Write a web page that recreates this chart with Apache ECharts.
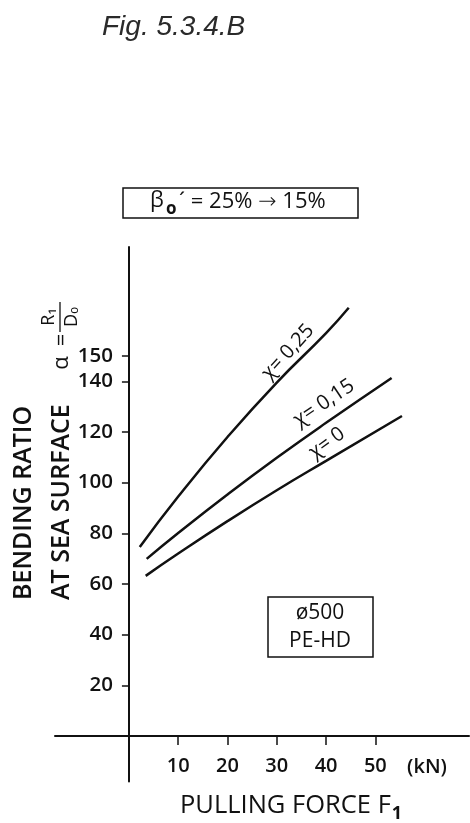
<!DOCTYPE html>
<html><head><meta charset="utf-8">
<script src="https://cdn.jsdelivr.net/npm/echarts@6/dist/echarts.min.js"></script>
<style>html,body{margin:0;padding:0;background:#fff}#c{width:470px;height:823px}</style>
</head><body><div id="c"></div>
<script>
const xTickValues = [10, 20, 30, 40, 50];
const yTickValues = [20, 40, 60, 80, 100, 120, 140, 150];
const curveNames = ['χ= 0,25', 'χ= 0,15', 'χ= 0'];
const forceChi025 = [2.2, 10, 20, 30, 40, 44.6];
const ratioChi025 = [74.6, 94.5, 118, 139.5, 159, 169];
const forceChi015 = [3.6, 10, 20, 30, 40, 53.3];
const ratioChi015 = [69.9, 80.1, 95.3, 109.8, 123.6, 141.3];
const forceChi0 = [3.4, 10, 20, 30, 40, 55.4];
const ratioChi0 = [63.2, 72, 84.8, 97, 108.6, 126.3];

const INK = '#111';
const FONT = "'Open Sans', sans-serif";
const zip = (xs, ys) => xs.map((x, i) => [x, ys[i]]);
const curves = [zip(forceChi025, ratioChi025), zip(forceChi015, ratioChi015), zip(forceChi0, ratioChi0)];

const chart = echarts.init(document.getElementById('c'), null, {renderer: 'canvas'});

const txt = (x, y, text, o) => Object.assign({
  type: 'text', x: x, y: y,
  style: Object.assign({text: text, fill: INK, font: '400 20px ' + FONT, align: 'left', verticalAlign: 'middle'}, (o && o.style) || {})
}, o && o.rotation !== undefined ? {rotation: o.rotation} : {});

const ctx = document.createElement('canvas').getContext('2d');
ctx.font = '500 25.5px ' + FONT;
const pullW = ctx.measureText('PULLING FORCE F').width;

const option = {
  backgroundColor: '#fff',
  animation: false,
  grid: {left: 55, right: 1, top: 247, bottom: 41.4, containLabel: false, outerBoundsMode: 'none'},
  xAxis: {
    type: 'value', min: -15, max: 69,
    splitLine: {show: false},
    axisLine: {onZero: true, lineStyle: {color: INK, width: 2}},
    axisTick: {customValues: xTickValues, length: 9, lineStyle: {color: INK, width: 1.5}},
    axisLabel: {customValues: xTickValues, margin: -25, color: INK, fontSize: 20, fontWeight: 600, fontFamily: FONT}
  },
  yAxis: {
    type: 'value', min: -18, max: 193,
    splitLine: {show: false},
    axisLine: {onZero: true, lineStyle: {color: INK, width: 2}},
    axisTick: {customValues: yTickValues, length: 7, lineStyle: {color: INK, width: 1.5}},
    axisLabel: {customValues: yTickValues, margin: -58, color: INK, fontSize: 20.5, fontWeight: 600, fontFamily: FONT}
  },
  series: curves.map((d, i) => ({
    type: 'line', name: curveNames[i], data: d, smooth: true, symbol: 'none',
    lineStyle: {color: INK, width: 2.5}
  })),
  graphic: [
    // title
    txt(102, 27, 'Fig. 5.3.4.B', {style: {font: 'italic 400 28px "Liberation Sans", sans-serif', fill: '#2a2a2a'}}),
    // top box
    {type: 'rect', shape: {x: 123, y: 188, width: 235, height: 30}, style: {fill: 'none', stroke: INK, lineWidth: 1.5}},
    txt(150, 201, 'β', {style: {font: '400 22px ' + FONT}}),
    txt(166, 209, 'o', {style: {font: '700 17px ' + FONT}}),
    {
      type: 'text', x: 179, y: 202,
      style: {
        text: '{a|´ = 25% }{b|→}{a| 15%}', fill: INK, align: 'left', verticalAlign: 'middle',
        rich: {
          a: {fontFamily: FONT, fontSize: 22, fontWeight: 500, fill: INK},
          b: {fontFamily: "'DejaVu Sans', sans-serif", fontSize: 22, fontWeight: 300, fill: INK}
        }
      }
    },
    // bottom box
    {type: 'rect', shape: {x: 268, y: 597, width: 105, height: 60}, style: {fill: 'none', stroke: INK, lineWidth: 1.5}},
    txt(320, 613, 'ø500', {style: {font: '500 21px ' + FONT, align: 'center'}}),
    txt(320, 641, 'PE-HD', {style: {font: '500 21px ' + FONT, align: 'center'}}),
    // curve labels
    txt(288, 352, curveNames[0], {rotation: 47.5 * Math.PI / 180, style: {font: '400 20px ' + FONT, align: 'center'}}),
    txt(324, 403, curveNames[1], {rotation: 34 * Math.PI / 180, style: {font: '400 20.5px ' + FONT, align: 'center'}}),
    txt(327, 443, curveNames[2], {rotation: 36 * Math.PI / 180, style: {font: '400 20px ' + FONT, align: 'center'}}),
    // x unit and name
    txt(427, 767, '(kN)', {style: {font: '600 20px ' + FONT, align: 'center'}}),
    txt(180, 806, 'PULLING FORCE F', {style: {font: '500 25.5px ' + FONT}}),
    txt(180 + pullW + 1, 814, '1', {style: {font: '700 18px ' + FONT}}),
    // y title (rotated group)
    {
      type: 'group', x: 0, y: 600, rotation: Math.PI / 2,
      children: [
        txt(0, 24, 'BENDING RATIO', {style: {font: '600 25px ' + FONT}}),
        txt(0, 62, 'AT SEA SURFACE', {style: {font: '600 25px ' + FONT}}),
        txt(237, 62, 'α', {style: {font: '400 22px ' + FONT, align: 'center'}}),
        txt(260, 62, '=', {style: {font: '400 22px ' + FONT, align: 'center'}}),
        txt(283, 49, 'R₁', {style: {font: '400 18px ' + FONT, align: 'center'}}),
        {type: 'line', shape: {x1: 268, y1: 60, x2: 298, y2: 60}, style: {stroke: INK, lineWidth: 1.3}},
        txt(283, 72, 'Dₒ', {style: {font: '400 18px ' + FONT, align: 'center'}})
      ]
    }
  ]
};
chart.setOption(option);
</script></body></html>
